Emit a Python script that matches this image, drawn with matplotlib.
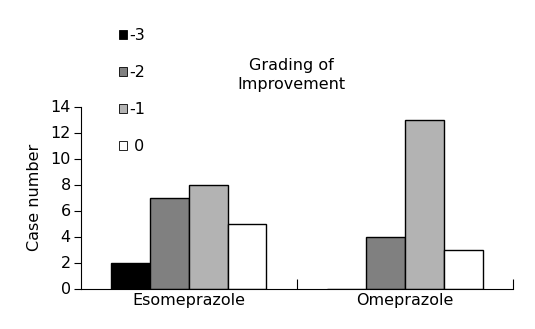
import matplotlib.pyplot as plt
from matplotlib.patches import Patch
import numpy as np

drugs = ['Esomeprazole', 'Omeprazole']
grades = ['-3', '-2', '-1', ' 0']
counts = {
    '-3': [2, 0],
    '-2': [7, 4],
    '-1': [8, 13],
    ' 0': [5, 3],
}
colors = ['#000000', '#808080', '#b3b3b3', '#ffffff']
yticks = [0, 2, 4, 6, 8, 10, 12, 14]

fig = plt.figure(figsize=(5.35, 3.29), dpi=100, facecolor='white')
ax = fig.add_axes([80.5 / 535, 40.5 / 329, (513 - 80.5) / 535, (289 - 107) / 329])

x = np.arange(len(drugs))
width = 0.18
offsets = (np.arange(len(grades)) - 1.5) * width
for g, off, c in zip(grades, offsets, colors):
    ax.bar(x + off, counts[g], width, color=c, edgecolor='black', linewidth=1.0)

ax.set_xlim(-0.5, 1.5)
ax.set_ylim(0, 14)
ax.set_yticks(yticks)
ax.set_xticks(x)
ax.set_xticklabels(drugs, fontsize=11.5)
ax.tick_params(axis='x', which='major', length=0, pad=3)
# category separators as inward minor ticks
ax.set_xticks([0.5, 1.5], minor=True)
ax.tick_params(axis='x', which='minor', direction='in', length=7, width=0.8)
ax.tick_params(axis='y', direction='out', length=5, width=0.8, labelsize=11.5, pad=2)
for s in ['top', 'right']:
    ax.spines[s].set_visible(False)
for s in ['left', 'bottom']:
    ax.spines[s].set_linewidth(0.8)
ax.set_ylabel('Case number', fontsize=11.5, labelpad=6)

handles = [Patch(facecolor=c, edgecolor='black', linewidth=0.6) for c in colors]
fig.legend(handles, grades, loc='upper left', bbox_to_anchor=(111 / 535, 1 - 20 / 329),
           frameon=False, fontsize=11.5, handlelength=0.5, handleheight=0.5,
           handletextpad=0.15, labelspacing=1.38, borderpad=0)

fig.text(291 / 535, 1 - 75 / 329, 'Grading of\nImprovement', ha='center', va='center',
         fontsize=11.5, linespacing=1.3)

fig.savefig('out.png', dpi=100, facecolor='white')
